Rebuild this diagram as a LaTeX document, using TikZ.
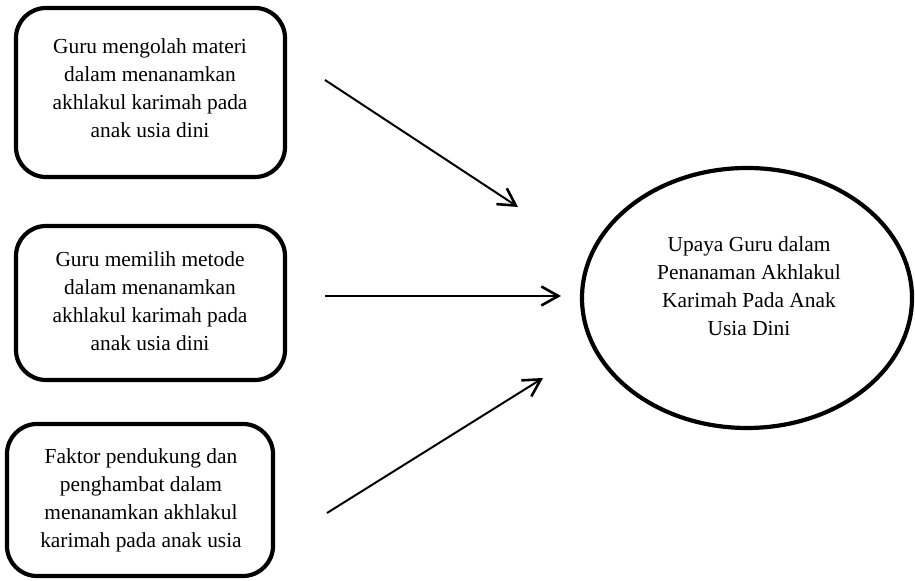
\documentclass[tikz,border=0pt]{standalone}
\usepackage{fontspec}
\setmainfont{Liberation Serif}
\usetikzlibrary{arrows.meta}
\begin{document}
\begin{tikzpicture}[x=0.5pt,y=-0.5pt,
  boxtext/.style={align=center,font=\fontsize{10.7pt}{14pt}\selectfont},
  rbox/.style={draw,line width=2.1pt,rounded corners=15pt},
  conn/.style={line width=1pt,-{Straight Barb[length=8.5pt,width=9.5pt,line width=1.3pt]}}]
\useasboundingbox (0,0) rectangle (915,581);
\draw[rbox] (16,8) rectangle (285,177);
\node[boxtext] (t1) at (150,88) {Guru mengolah materi\\dalam menanamkan\\akhlakul karimah pada\\anak usia dini};
\draw[rbox] (16,226) rectangle (285,380);
\node[boxtext] (t2) at (150,301) {Guru memilih metode\\dalam menanamkan\\akhlakul karimah pada\\anak usia dini};
\draw[rbox] (7,424) rectangle (273,576);
\node[boxtext] (t3) at (141,500) {Faktor pendukung dan\\penghambat dalam\\menanamkan akhlakul\\karimah pada anak usia};
\draw[line width=2.1pt] (747,298) ellipse (165 and 130);
\node[boxtext] (e) at (749,286) {Upaya Guru dalam\\Penanaman Akhlakul\\Karimah Pada Anak\\Usia Dini};
\coordinate (a1s) at (325,80);
\coordinate (a1e) at (518,207);
\coordinate (a2s) at (325,296);
\coordinate (a2e) at (561,296);
\coordinate (a3s) at (327,513);
\coordinate (a3e) at (543,378);
\draw[conn] (a1s) -- (a1e);
\draw[conn] (a2s) -- (a2e);
\draw[conn] (a3s) -- (a3e);
\end{tikzpicture}
\end{document}
